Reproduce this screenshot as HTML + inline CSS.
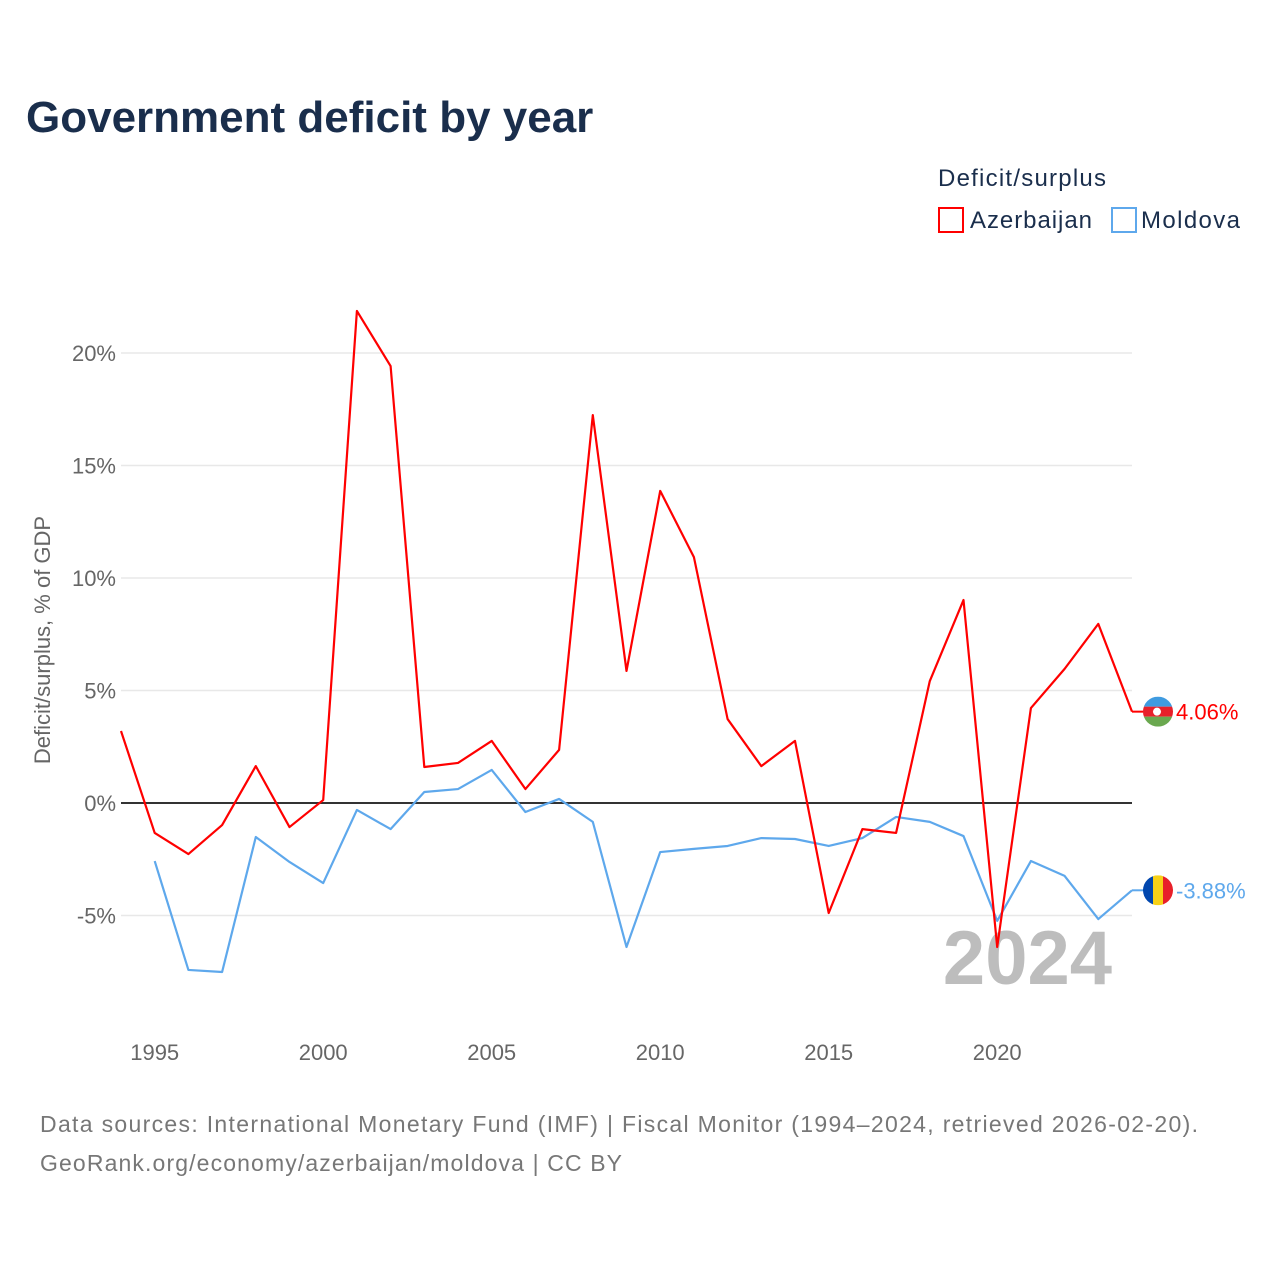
<!DOCTYPE html>
<html><head><meta charset="utf-8">
<style>
body{margin:0;background:#fff;font-family:"Liberation Sans",sans-serif;}
#wrap{position:relative;width:1280px;height:1280px;overflow:hidden;}
</style></head>
<body>
<div id="wrap">
<svg id="chart" width="1280" height="1280" xmlns="http://www.w3.org/2000/svg">
<defs>
<clipPath id="cA"><circle cx="1158" cy="0" r="15"/></clipPath>
</defs>
<text x="26" y="132" font-size="44" font-weight="bold" fill="#1a2e4c">Government deficit by year</text>
<text x="938" y="186" font-size="24" fill="#1a2e4c" textLength="168">Deficit/surplus</text>
<g>
<rect x="939" y="208" width="24" height="24" fill="none" stroke="#ff0000" stroke-width="2"/>
<text x="970" y="228" font-size="24" fill="#1a2e4c" textLength="122">Azerbaijan</text></g>
<g>
<rect x="1112" y="208" width="24" height="24" fill="none" stroke="#5ea8ec" stroke-width="2"/>
<text x="1141" y="228" font-size="24" fill="#1a2e4c" textLength="99">Moldova</text></g>
<text transform="translate(50,640) rotate(-90)" text-anchor="middle" font-size="22" fill="#666">Deficit/surplus, % of GDP</text>
<text x="1112" y="984" text-anchor="end" font-size="76" font-weight="bold" fill="#bdbdbd">2024</text>
<g id="grid"></g><g id="series"></g>
<text x="40" y="1132" font-size="23" fill="#777" textLength="1158">Data sources: International Monetary Fund (IMF) | Fiscal Monitor (1994–2024, retrieved 2026-02-20).</text>
<text x="40" y="1171" font-size="23" fill="#777" textLength="582">GeoRank.org/economy/azerbaijan/moldova | CC BY</text>
</svg>
</div>
<script>
const years=[1994,1995,1996,1997,1998,1999,2000,2001,2002,2003,2004,2005,2006,2007,2008,2009,2010,2011,2012,2013,2014,2015,2016,2017,2018,2019,2020,2021,2022,2023,2024];
const azerbaijan=[3.2,-1.33,-2.27,-0.98,1.64,-1.07,0.13,21.87,19.42,1.6,1.78,2.76,0.62,2.36,17.24,5.87,13.87,10.93,3.73,1.64,2.76,-4.89,-1.16,-1.33,5.42,9.02,-6.4,4.22,5.96,7.96,4.06];
const moldova=[null,-2.58,-7.42,-7.51,-1.51,-2.62,-3.56,-0.31,-1.16,0.49,0.62,1.47,-0.4,0.18,-0.84,-6.4,-2.18,-2.04,-1.91,-1.56,-1.6,-1.91,-1.56,-0.62,-0.84,-1.47,-5.24,-2.58,-3.24,-5.16,-3.88];
const yTicks=[-5,0,5,10,15,20];
const xTicks=[1995,2000,2005,2010,2015,2020];
const NS="http://www.w3.org/2000/svg";
function X(y){return 121+(y-1994)*(1132-121)/30;}
function Y(v){return 803-v*22.5;}
function mk(t,a,p){const e=document.createElementNS(NS,t);for(const k in a)e.setAttribute(k,a[k]);p.appendChild(e);return e;}
const grid=document.getElementById('grid'),ser=document.getElementById('series');
yTicks.forEach(t=>{
 const l=mk('line',{x1:121,x2:1132,y1:Y(t),y2:Y(t),stroke:t===0?'#333':'#e8e8e8','stroke-width':t===0?2:1.5},grid);
 
 
 const tx=mk('text',{x:116,y:Y(t)+8,'text-anchor':'end','font-size':22,fill:'#666'},grid);
 tx.textContent=t+'%';
 
 
});
xTicks.forEach(t=>{
 const tx=mk('text',{x:X(t),y:1060,'text-anchor':'middle','font-size':22,fill:'#666'},grid);
 tx.textContent=t;
 
 
});
function flag(name,cy){
 const g=mk('g',{transform:'translate(0,'+cy+')','clip-path':'url(#cA)'},ser);
 
 
 if(name==='azerbaijan'){
  mk('rect',{x:1143,y:-15,width:30,height:10,fill:'#3f9be0'},g);
  mk('rect',{x:1143,y:-5,width:30,height:10,fill:'#e8202a'},g);
  mk('rect',{x:1143,y:5,width:30,height:10,fill:'#6aa84f'},g);
  mk('circle',{cx:1157,cy:0,r:4,fill:'#fff'},g);
 }else{
  mk('rect',{x:1143,y:-15,width:10,height:30,fill:'#0046ae'},g);
  mk('rect',{x:1153,y:-15,width:10,height:30,fill:'#f7d117'},g);
  mk('rect',{x:1163,y:-15,width:10,height:30,fill:'#e8202a'},g);
 }
}
function line(vals,color,name){
 let d='';vals.forEach((v,i)=>{if(v===null)return;d+=(d?'L':'M')+X(years[i])+','+Y(v);});
 const p=mk('path',{d:d,fill:'none',stroke:color,'stroke-width':2.2,'stroke-linejoin':'round'},ser);
 
 
 const last=vals[vals.length-1];
 mk('line',{x1:X(2024),x2:1146,y1:Y(last),y2:Y(last),stroke:color,'stroke-width':2},ser);
 flag(name,Y(last));
 const tx=mk('text',{x:1176,y:Y(last)+8,'font-size':22,fill:color},ser);
 tx.textContent=last.toFixed(2)+'%';
 
 
}
line(moldova,'#5ea8ec','moldova');
line(azerbaijan,'#ff0000','azerbaijan');
</script>
</body></html>
